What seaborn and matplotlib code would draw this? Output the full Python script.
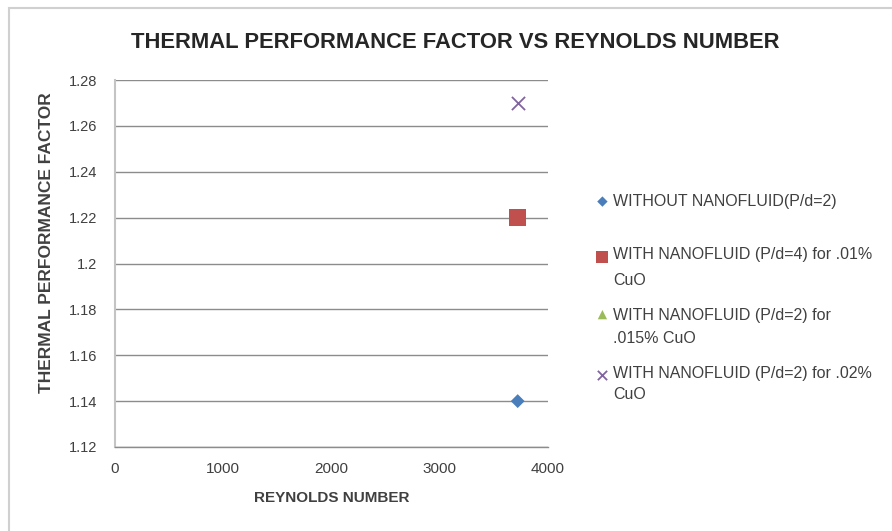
import matplotlib
matplotlib.use("Agg")
import matplotlib.pyplot as plt
from matplotlib.patches import Rectangle
from matplotlib.ticker import FuncFormatter
from matplotlib.legend_handler import HandlerPathCollection
import seaborn as sns
import pandas as pd

# Series data
series_labels = [
    "WITHOUT NANOFLUID(P/d=2)",
    "WITH NANOFLUID (P/d=4) for .01%\nCuO",
    "WITH NANOFLUID (P/d=2) for\n.015% CuO",
    "WITH NANOFLUID (P/d=2) for .02%\nCuO",
]
reynolds = [3720, 3720, 3720, 3720]
tpf = [1.14, 1.22, 1.22, 1.27]
colors = ["#4A7EBB", "#C0504D", "#9BBB59", "#8064A2"]
markers = ["D", "s", "^", "x"]
marker_sizes = [50, 150, 70, 90]
legend_sizes = [28, 75, 45, 45]
draw_order = [1, 4, 2, 3]

x_ticks = [0, 1000, 2000, 3000, 4000]
y_ticks = [1.12, 1.14, 1.16, 1.18, 1.2, 1.22, 1.24, 1.26, 1.28]

sns.set_theme(style="white")
plt.rcParams["font.family"] = ["Liberation Sans", "DejaVu Sans"]

fig = plt.figure(figsize=(8.92, 5.31), dpi=100)
ax = fig.add_axes([115 / 892, 1 - 447 / 531, 433 / 892, 367 / 531])

df = pd.DataFrame({"Re": reynolds, "TPF": tpf, "series": series_labels})

for i, lab in enumerate(series_labels):
    sub = df[df["series"] == lab]
    kw = dict(linewidth=1.3) if markers[i] == "x" else dict(edgecolor="none")
    sns.scatterplot(data=sub, x="Re", y="TPF", ax=ax, marker=markers[i],
                    color=colors[i], s=marker_sizes[i], label=lab,
                    zorder=draw_order[i], legend=False, **kw)

ax.set_xlim(0, 4000)
ax.set_ylim(1.12, 1.28)
ax.set_xticks(x_ticks)
ax.set_yticks(y_ticks)
ax.yaxis.set_major_formatter(FuncFormatter(lambda v, p: f"{v:g}"))
ax.grid(axis="y", color="#8c8c8c", linewidth=1.0)
ax.grid(axis="x", visible=False)
ax.set_axisbelow(True)
for side in ["top", "right"]:
    ax.spines[side].set_visible(False)
ax.spines["left"].set_color("#c4c4c4")
ax.spines["left"].set_linewidth(1.5)
ax.spines["bottom"].set_color("#8c8c8c")
ax.spines["bottom"].set_linewidth(1.0)
ax.tick_params(axis="y", which="major", left=False, labelsize=10.5,
               labelcolor="#404040", pad=7)
ax.tick_params(axis="x", which="major", bottom=False, labelsize=11,
               labelcolor="#404040", pad=5)

ax.set_xlabel("REYNOLDS NUMBER", fontsize=11, fontweight="bold",
              color="#404040")
ax.xaxis.set_label_coords(0.5, -0.12)
ax.set_ylabel("THERMAL PERFORMANCE FACTOR", fontsize=12.5, fontweight="bold",
              color="#404040")
ax.yaxis.set_label_coords(-0.14, 0.556)

fig.text(455 / 892, 1 - 42 / 531, "THERMAL PERFORMANCE FACTOR VS REYNOLDS NUMBER",
         ha="center", va="center", fontsize=15.8, fontweight="bold", color="#262626")

# Legend: markers sit beside the first line of each wrapped label
legend_texts = [series_labels[0] + "\n"] + series_labels[1:]
marker_lift = [1.3, 1.48, 1.66, 1.39]
handles = [c for c in ax.collections]
hmap = {h: HandlerPathCollection(sizes=[legend_sizes[i]], yoffsets=[marker_lift[i]])
        for i, h in enumerate(handles)}
leg = ax.legend(handles=handles, labels=legend_texts, handler_map=hmap,
                loc="upper left", bbox_to_anchor=(1.098, 0.708), frameon=False,
                fontsize=11.5, labelspacing=1.25, handletextpad=0.3,
                handlelength=0.7, borderaxespad=0)
line_gaps = [1.26, 1.96, 1.68, 1.47]
for t, g in zip(leg.get_texts(), line_gaps):
    t.set_color("#404040")
    t.set_linespacing(g)

# Chart area border
fig.patches.append(Rectangle((9 / 892, -0.5), 2.0, 1.5 - 8 / 531,
                             transform=fig.transFigure, fill=False,
                             edgecolor="#d0d0d0", linewidth=1.5))

fig.savefig("out.png", dpi=100)
